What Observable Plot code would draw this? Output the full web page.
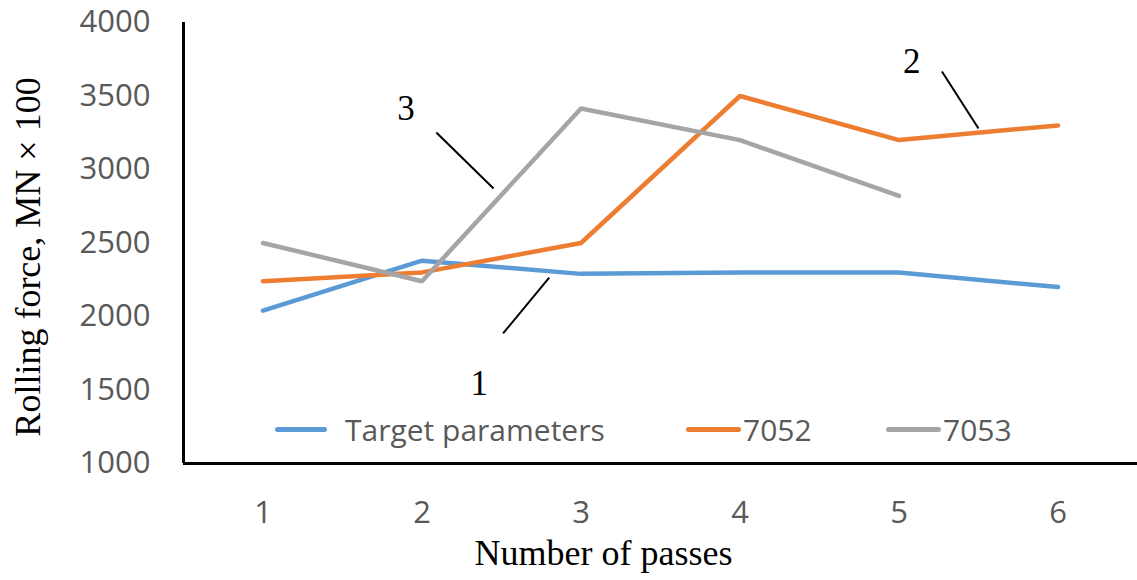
<!DOCTYPE html>
<html>
<head>
<meta charset="utf-8">
<script src="https://cdn.jsdelivr.net/npm/d3@7"></script>
<script src="https://cdn.jsdelivr.net/npm/@observablehq/plot@0.6"></script>
<style>
  html, body { margin: 0; padding: 0; background: white; }
  #wrap { position: relative; width: 1137px; height: 580px; }
  .leg { position: absolute; top: 411px; height: 36px; display: flex; align-items: center;
         font-family: "Open Sans", sans-serif; font-size: 30px; color: #595959; white-space: nowrap; }
  .sw { display: inline-block; height: 5px; border-radius: 3px; }
</style>
</head>
<body>
<div id="wrap"></div>
<script>
// ---- data ----
const passes = [1, 2, 3, 4, 5, 6];
const seriesNames = ["Target parameters", "7052", "7053"];
const seriesColors = ["#5B9BD5", "#ED7D31", "#A5A5A5"];
const targetValues = [2040, 2380, 2290, 2300, 2300, 2200];
const values7052 = [2240, 2300, 2500, 3500, 3200, 3300];
const values7053 = [2500, 2240, 3415, 3200, 2820];
const yTicks = [1000, 1500, 2000, 2500, 3000, 3500, 4000];
const xTicks = [1, 2, 3, 4, 5, 6];
const xDomain = [0.5, 6.5];
const yDomain = [1000, 4000];
// curve annotations (number label and leader line, in data units)
const annLabels = ["1", "2", "3"];
const annTextX = [2.36, 5.08, 1.90];
const annTextY = [1545, 3730, 3415];
const annLineX1 = [2.51, 5.27, 2.09];
const annLineY1 = [1885, 3667, 3252];
const annLineX2 = [2.80, 5.50, 2.45];
const annLineY2 = [2265, 3279, 2871];
const xTitle = "Number of passes";
const yTitle = "Rolling force, MN \u00d7 100";

// ---- build tables ----
const allValues = [targetValues, values7052, values7053];
const rows = [];
allValues.forEach((vals, i) => vals.forEach((v, j) => rows.push({series: seriesNames[i], pass: passes[j], value: v})));
const ann = annLabels.map((t, i) => ({t, x: annTextX[i], y: annTextY[i], x1: annLineX1[i], y1: annLineY1[i], x2: annLineX2[i], y2: annLineY2[i]}));

const serif = "'Liberation Serif', 'Times New Roman', serif";
const sans = "'Open Sans', sans-serif";

const chart = Plot.plot({
  width: 1137,
  height: 580,
  marginLeft: 183,
  marginRight: 0,
  marginTop: 22,
  marginBottom: 117,
  style: {background: "white", overflow: "visible"},
  x: {domain: xDomain},
  y: {domain: yDomain},
  color: {domain: seriesNames, range: seriesColors},
  marks: [
    Plot.axisY({ticks: yTicks, tickSize: 0, tickPadding: 33, tickFormat: d3.format("d"),
      fontSize: 31, fontFamily: sans, fill: "#595959", label: null}),
    Plot.axisX({ticks: xTicks, tickSize: 0, tickPadding: 37, tickFormat: d3.format("d"),
      fontSize: 31, fontFamily: sans, fill: "#595959", label: null}),
    Plot.line(rows, {x: "pass", y: "value", z: "series", stroke: "series", strokeWidth: 4.5,
      strokeLinejoin: "miter", strokeLinecap: "round"}),
    Plot.link(ann, {x1: "x1", y1: "y1", x2: "x2", y2: "y2", stroke: "black", strokeWidth: 2}),
    Plot.text(ann, {x: "x", y: "y", text: "t", fontFamily: serif, fontSize: 35, fill: "black"}),
    Plot.ruleX([xDomain[0]], {stroke: "black", strokeWidth: 3}),
    Plot.ruleY([yDomain[0]], {stroke: "black", strokeWidth: 3}),
    Plot.text([xTitle], {frameAnchor: "bottom", dx: -57, dy: 90, lineAnchor: "middle", textAnchor: "middle",
      fontFamily: serif, fontSize: 36, fill: "black"}),
    Plot.text([yTitle], {frameAnchor: "left", dx: -155, dy: 14, rotate: -90, lineAnchor: "middle", textAnchor: "middle",
      fontFamily: serif, fontSize: 36, fill: "black"})
  ]
});

const wrap = document.getElementById("wrap");
wrap.appendChild(chart);

// legend inside the plot area
const legSwatchLeft = [275, 686, 886];
const legSwatchWidth = [52, 55, 55];
const legGap = [18, 2, 2];
seriesNames.forEach((name, i) => {
  const item = document.createElement("div");
  item.className = "leg";
  item.style.left = legSwatchLeft[i] + "px";
  const sw = document.createElement("span");
  sw.className = "sw";
  sw.style.width = legSwatchWidth[i] + "px";
  sw.style.background = seriesColors[i];
  sw.style.marginRight = legGap[i] + "px";
  const tx = document.createElement("span");
  tx.textContent = name;
  item.appendChild(sw);
  item.appendChild(tx);
  wrap.appendChild(item);
});
</script>
</body>
</html>
